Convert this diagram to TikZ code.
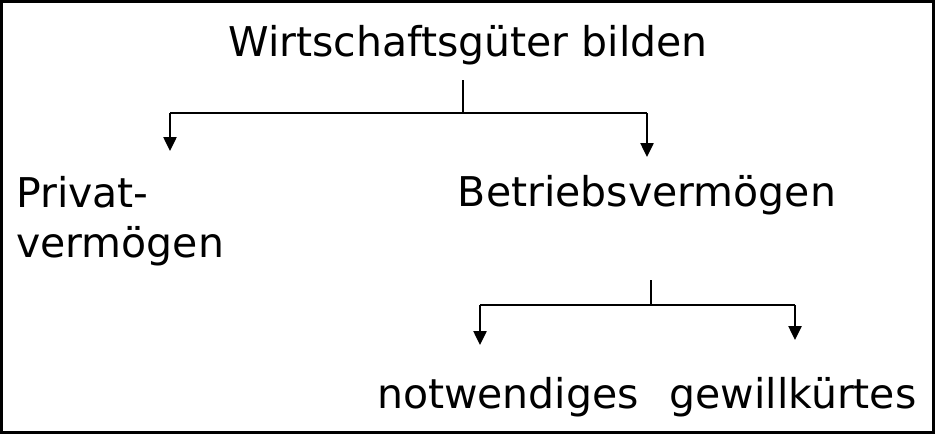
\documentclass[tikz,border=0pt]{standalone}
\usepackage{fontspec}
\setmainfont{DejaVu Sans}
\usetikzlibrary{arrows.meta}
\begin{document}
\begin{tikzpicture}[x=1pt,y=-1pt,
  lbl/.style={inner sep=0pt,font=\fontsize{41}{50}\selectfont},
  ln/.style={line width=2.5pt},
  arr/.style={ln,-{Triangle[length=14pt,width=13pt]}}]
\useasboundingbox (0,0) rectangle (935,434);
\draw[line width=2.5pt] (1.5,1.5) rectangle (933.5,432.5);
\node[lbl] (w) at (468,45) {Wirtschaftsgüter bilden};
\node[lbl,anchor=west,align=left] (p) at (16,221) {Privat-\\vermögen};
\node[lbl] (b) at (647,195) {Betriebsvermögen};
\node[lbl] (n) at (508,397) {notwendiges};
\node[lbl] (g) at (793,397) {gewillkürtes};
\coordinate (j1) at (463,113);
\coordinate (l1) at (170,113);
\coordinate (r1) at (647,113);
\draw[ln] (463,80) coordinate (t1) -- (j1);
\draw[ln] (l1) -- (r1);
\draw[arr] (l1) -- (170,151) coordinate (pa);
\draw[arr] (r1) -- (647,157) coordinate (ba);
\coordinate (j2) at (651,305);
\coordinate (l2) at (480,305);
\coordinate (r2) at (795,305);
\draw[ln] (651,280) coordinate (t2) -- (j2);
\draw[ln] (l2) -- (r2);
\draw[arr] (l2) -- (480,345) coordinate (na);
\draw[arr] (r2) -- (795,340) coordinate (ga);
\end{tikzpicture}
\end{document}
